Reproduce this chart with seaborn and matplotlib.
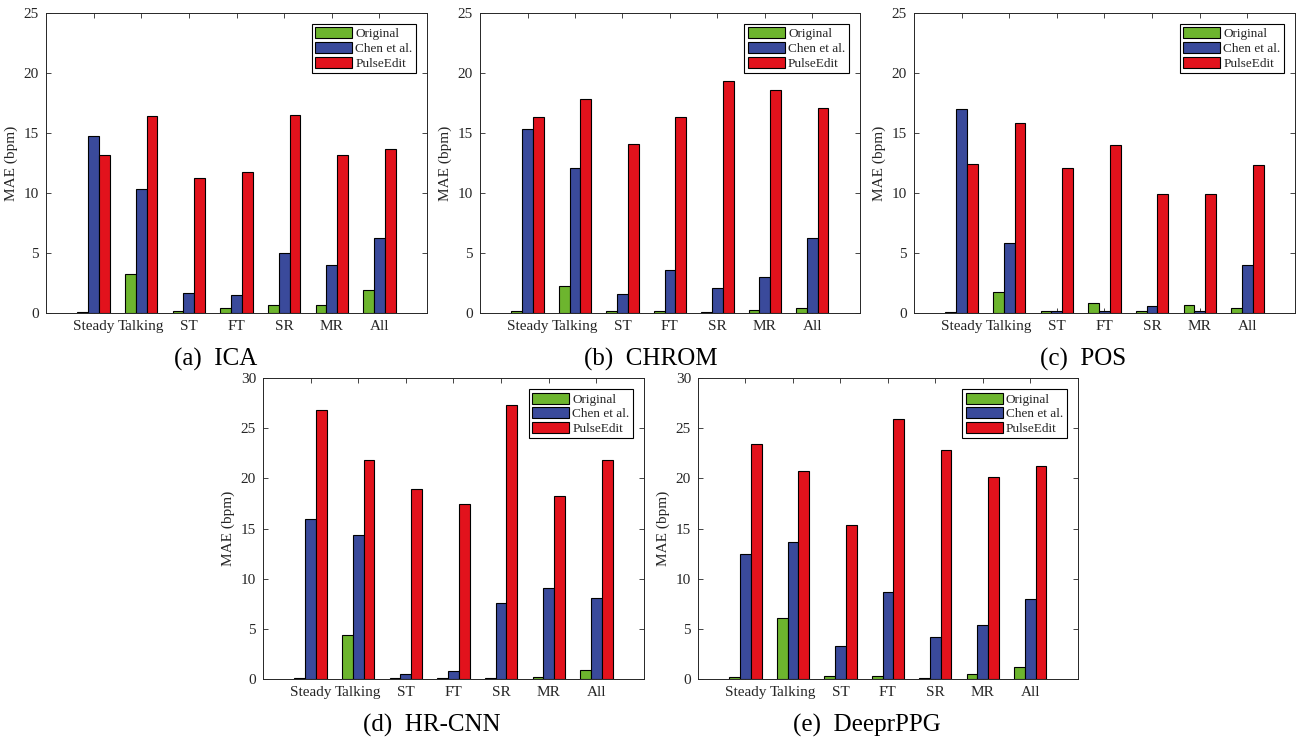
import pandas as pd
import matplotlib.pyplot as plt
import seaborn as sns

conditions = ["Steady", "Talking", "ST", "FT", "SR", "MR", "All"]
methods = ["Original", "Chen et al.", "PulseEdit"]

# MAE (bpm)
ica_original = [0.08, 3.22, 0.19, 0.44, 0.69, 0.69, 1.89]
ica_chen = [14.78, 10.36, 1.67, 1.50, 5.03, 4.00, 6.22]
ica_pulseedit = [13.19, 16.39, 11.25, 11.78, 16.53, 13.19, 13.69]

chrom_original = [0.19, 2.25, 0.19, 0.19, 0.08, 0.28, 0.44]
chrom_chen = [15.36, 12.11, 1.58, 3.61, 2.11, 3.00, 6.28]
chrom_pulseedit = [16.31, 17.86, 14.11, 16.36, 19.36, 18.58, 17.11]

pos_original = [0.08, 1.75, 0.19, 0.86, 0.19, 0.69, 0.44]
pos_chen = [16.97, 5.86, 0.19, 0.19, 0.61, 0.19, 3.97]
pos_pulseedit = [12.39, 15.83, 12.11, 14.00, 9.94, 9.94, 12.36]

hrcnn_original = [0.10, 4.37, 0.07, 0.07, 0.10, 0.17, 0.87]
hrcnn_chen = [15.97, 14.37, 0.47, 0.77, 7.60, 9.07, 8.03]
hrcnn_pulseedit = [26.87, 21.80, 19.00, 17.50, 27.37, 18.27, 21.80]

deeprppg_original = [0.20, 6.13, 0.30, 0.30, 0.10, 0.50, 1.17]
deeprppg_chen = [12.43, 13.63, 3.30, 8.70, 4.20, 5.37, 7.93]
deeprppg_pulseedit = [23.43, 20.77, 15.40, 25.90, 22.83, 20.10, 21.27]

panel_titles = ["(a)  ICA", "(b)  CHROM", "(c)  POS", "(d)  HR-CNN", "(e)  DeeprPPG"]
panel_data = [
    (ica_original, ica_chen, ica_pulseedit),
    (chrom_original, chrom_chen, chrom_pulseedit),
    (pos_original, pos_chen, pos_pulseedit),
    (hrcnn_original, hrcnn_chen, hrcnn_pulseedit),
    (deeprppg_original, deeprppg_chen, deeprppg_pulseedit),
]
panel_ymax = [25, 25, 25, 30, 30]

colors = ["#6db52e", "#3a4a9b", "#e2121c"]

sns.set_style("ticks")
plt.rcParams["font.family"] = ["Liberation Serif", "DejaVu Serif"]

fig = plt.figure(figsize=(12.96, 7.39), dpi=100)

# axes rectangles in figure fractions: left, bottom, width, height
rects = [
    (0.0355, 0.5765, 0.294, 0.406),
    (0.3704, 0.5765, 0.293, 0.406),
    (0.7052, 0.5765, 0.294, 0.406),
    (0.2029, 0.0812, 0.294, 0.407),
    (0.5386, 0.0812, 0.293, 0.407),
]
title_pos = [(0.166, 0.514), (0.502, 0.514), (0.836, 0.514), (0.333, 0.018), (0.669, 0.018)]

axis_gray = "#262626"

for i in range(5):
    ax = fig.add_axes(rects[i])
    orig, chen, pulse = panel_data[i]
    df = pd.DataFrame({
        "cond": conditions * 3,
        "mae": list(orig) + list(chen) + list(pulse),
        "method": [methods[0]] * 7 + [methods[1]] * 7 + [methods[2]] * 7,
    })
    sns.barplot(data=df, x="cond", y="mae", hue="method", order=conditions,
                hue_order=methods, palette=colors, width=0.68, saturation=1,
                edgecolor="black", linewidth=0.8, ax=ax, errorbar=None)

    ax.set_xlim(-1, 7)
    ax.set_ylim(0, panel_ymax[i])
    ax.set_yticks(range(0, panel_ymax[i] + 1, 5))
    ax.set_xlabel("")
    ax.set_ylabel("MAE (bpm)", fontsize=11, color=axis_gray, labelpad=4)
    ax.tick_params(direction="in", top=True, right=True, length=3.5,
                   width=0.6, labelsize=11, colors=axis_gray, pad=5)
    for sp in ax.spines.values():
        sp.set_visible(True)
        sp.set_linewidth(0.7)
        sp.set_color(axis_gray)

    leg = ax.legend(loc="upper right", fontsize=9.5, frameon=True, fancybox=False,
                    edgecolor="black", framealpha=1, handlelength=2.8,
                    handleheight=0.9, handletextpad=0.25, labelspacing=0.12,
                    borderpad=0.25, borderaxespad=0.85)
    leg.get_frame().set_linewidth(0.8)

    fig.text(title_pos[i][0], title_pos[i][1], panel_titles[i], fontsize=18,
             ha="center", va="center", color="black")

fig.savefig("out.png", dpi=100)
